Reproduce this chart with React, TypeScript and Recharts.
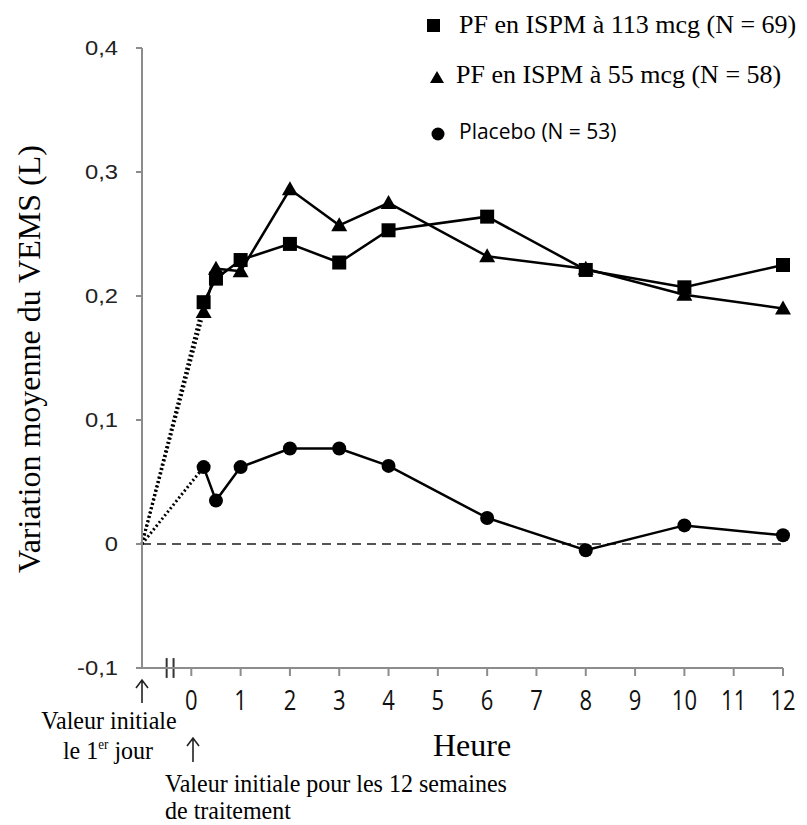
import React from "react"
import { LineChart, Line, XAxis, YAxis, ReferenceLine } from "recharts"

// hours after dose; -1 stands for the day-1 baseline
const hours = [-1, 0.25, 0.5, 1, 2, 3, 4, 6, 8, 10, 12]
const dose113 = [null, 0.195, 0.214, 0.229, 0.242, 0.227, 0.253, 0.264, 0.221, 0.207, 0.225]
const dose55 = [null, 0.187, 0.222, 0.22, 0.286, 0.257, 0.275, 0.232, 0.222, 0.201, 0.19]
const placebo = [null, 0.062, 0.035, 0.062, 0.077, 0.077, 0.063, 0.021, -0.005, 0.015, 0.007]
// dotted link from the day-1 baseline to the first measurement
const baseline113 = [0, 0.195]
const baseline55 = [0, 0.187]
const baselinePlacebo = [0, 0.062]

const xTicks = [0, 1, 2, 3, 4, 5, 6, 7, 8, 9, 10, 11, 12]
const yTicks = [-0.1, 0, 0.1, 0.2, 0.3, 0.4]
const yTickLabels = ["-0,1", "0", "0,1", "0,2", "0,3", "0,4"]

const data = hours.map((h, i) => ({
  h,
  d113: dose113[i],
  d55: dose55[i],
  pla: placebo[i],
  b113: i < baseline113.length ? baseline113[i] : null,
  b55: i < baseline55.length ? baseline55[i] : null,
  bpla: i < baselinePlacebo.length ? baselinePlacebo[i] : null,
}))

const AXIS = "#8c8c8c"
const serif = "'Liberation Serif', 'Times New Roman', serif"
const sans = "'Open Sans', 'Noto Sans', sans-serif"

const SquareDot = (p: any) => {
  if (p.cy == null || p.value == null) return <g key={p.key} />
  return <rect key={p.key} x={p.cx - 7} y={p.cy - 7} width={14} height={14} fill="#000" />
}
const TriangleDot = (p: any) => {
  if (p.cy == null || p.value == null) return <g key={p.key} />
  const { cx, cy } = p
  return <polygon key={p.key} points={`${cx},${cy - 8} ${cx + 8},${cy + 6} ${cx - 8},${cy + 6}`} fill="#000" />
}
const CircleDot = (p: any) => {
  if (p.cy == null || p.value == null) return <g key={p.key} />
  return <circle key={p.key} cx={p.cx} cy={p.cy} r={7} fill="#000" />
}

const XTick = (p: any) => (
  <text
    x={0}
    y={0}
    transform={`translate(${p.x},${p.y + 32}) scale(1,1.2)`}
    textAnchor="middle"
    fontFamily={sans}
    fontSize={22}
    fill="#111"
  >
    {p.payload.value}
  </text>
)

const YTick = (p: any) => {
  const idx = yTicks.findIndex((t) => Math.abs(t - p.payload.value) < 1e-9)
  return (
    <text
      x={0}
      y={0}
      transform={`translate(${p.x},${p.y + 7}) scale(1.25,1.05)`}
      textAnchor="end"
      fontFamily="'Liberation Sans', Arial, sans-serif"
      fontSize={19}
      fill="#222"
    >
      {yTickLabels[idx]}
    </text>
  )
}

const abs = (style: React.CSSProperties): React.CSSProperties => ({
  position: "absolute",
  whiteSpace: "nowrap",
  lineHeight: 1,
  color: "#000",
  ...style,
})

export default function App() {
  return (
    <div style={{ position: "absolute", left: 0, top: 0, width: 807, height: 825, background: "#fff", overflow: "hidden" }}>
      <LineChart
        width={807}
        height={825}
        data={data}
        margin={{ top: 48, right: 24, bottom: 127, left: 82 }}
      >
        <XAxis
          dataKey="h"
          type="number"
          domain={[-1, 12]}
          ticks={xTicks}
          interval={0}
          stroke={AXIS}
          strokeWidth={2}
          tickSize={8}
          tick={<XTick />}
          height={30}
        />
        <YAxis
          type="number"
          domain={[-0.1, 0.4]}
          ticks={yTicks}
          interval={0}
          stroke={AXIS}
          strokeWidth={2}
          tickSize={6}
          tickMargin={18}
          tick={<YTick />}
          width={60}
        />
        <ReferenceLine y={0} stroke="#555" strokeWidth={2} strokeDasharray="9 6" />
        <ReferenceLine
          segment={[{ x: -0.5, y: -0.108 }, { x: -0.5, y: -0.092 }]}
          stroke="#333"
          strokeWidth={2}
          ifOverflow="visible"
        />
        <ReferenceLine
          segment={[{ x: -0.36, y: -0.108 }, { x: -0.36, y: -0.092 }]}
          stroke="#333"
          strokeWidth={2}
          ifOverflow="visible"
        />
        <Line dataKey="b113" stroke="#000" strokeWidth={3} strokeDasharray="2 2.5" dot={false} isAnimationActive={false} />
        <Line dataKey="b55" stroke="#000" strokeWidth={3} strokeDasharray="2 2.5" dot={false} isAnimationActive={false} />
        <Line dataKey="bpla" stroke="#000" strokeWidth={3} strokeDasharray="2 2.5" dot={false} isAnimationActive={false} />
        <Line dataKey="d113" stroke="#000" strokeWidth={2.5} dot={<SquareDot />} isAnimationActive={false} />
        <Line dataKey="d55" stroke="#000" strokeWidth={2.5} dot={<TriangleDot />} isAnimationActive={false} />
        <Line dataKey="pla" stroke="#000" strokeWidth={2.5} dot={<CircleDot />} isAnimationActive={false} />
      </LineChart>

      {/* legend */}
      <div style={abs({ left: 427, top: 19, width: 13, height: 13, background: "#000" })} />
      <div style={abs({ left: 459, top: 12, fontFamily: serif, fontSize: 26 })}>PF en ISPM à 113 mcg (N = 69)</div>
      <svg style={{ position: "absolute", left: 430, top: 71 }} width={14} height={13}>
        <polygon points="7,0 14,12 0,12" fill="#000" />
      </svg>
      <div style={abs({ left: 456, top: 62, fontFamily: serif, fontSize: 26 })}>PF en ISPM à 55 mcg (N = 58)</div>
      <svg style={{ position: "absolute", left: 431, top: 127 }} width={14} height={14}>
        <circle cx={7} cy={7} r={6.5} fill="#000" />
      </svg>
      <div style={abs({ left: 459, top: 121, fontFamily: sans, fontSize: 21 })}>Placebo (N = 53)</div>

      {/* axis titles */}
      <div
        style={abs({
          left: 29,
          top: 359,
          fontFamily: serif,
          fontSize: 32,
          transform: "translate(-50%, -50%) rotate(-90deg)",
        })}
      >
        Variation moyenne du VEMS (L)
      </div>
      <div style={abs({ left: 472, top: 745, fontFamily: serif, fontSize: 32, transform: "translate(-50%, -50%)" })}>
        Heure
      </div>

      {/* baseline annotations */}
      <svg style={{ position: "absolute", left: 0, top: 0 }} width={807} height={825}>
        <g stroke="#222" strokeWidth={1.6} fill="none">
          <path d="M142,703 L142,680 M136,688 L142,680 L148,688" />
          <path d="M193,762 L193,738 M187,746 L193,738 L199,746" />
        </g>
      </svg>
      <div style={abs({ left: 109, top: 720, fontFamily: serif, fontSize: 24, transform: "translate(-50%, -50%) scale(1,1.08)" })}>
        Valeur initiale
      </div>
      <div style={abs({ left: 108, top: 750, fontFamily: serif, fontSize: 24, transform: "translate(-50%, -50%) scale(1,1.08)" })}>
        le 1<sup style={{ fontSize: 13, lineHeight: 0 }}>er</sup> jour
      </div>
      <div style={abs({ left: 165, top: 784, fontFamily: serif, fontSize: 24, transform: "translateY(-50%) scale(1,1.05)", transformOrigin: "left center" })}>
        Valeur initiale pour les 12 semaines
      </div>
      <div style={abs({ left: 165, top: 811, fontFamily: serif, fontSize: 24, transform: "translateY(-50%) scale(1,1.05)", transformOrigin: "left center" })}>
        de traitement
      </div>
    </div>
  )
}
